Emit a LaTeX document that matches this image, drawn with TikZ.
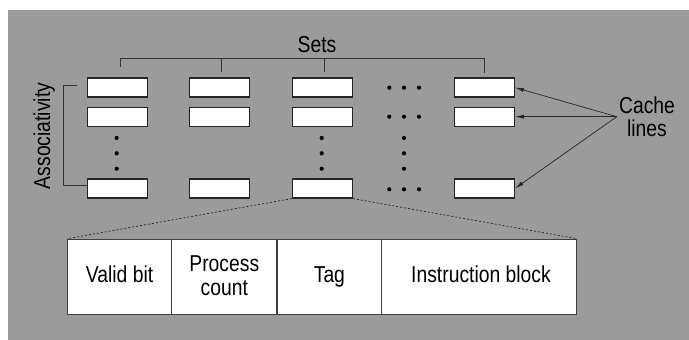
\documentclass[tikz,border=0pt]{standalone}
\usepackage{fontspec}
\setmainfont{Liberation Sans}[FakeStretch=0.84]
\usetikzlibrary{arrows.meta}
\definecolor{bggray}{RGB}{155,155,155}
\begin{document}
\begin{tikzpicture}[x=1pt,y=-1pt,
  cl/.style={draw=black!85,line width=1.2pt,fill=white,minimum width=60pt,minimum height=19pt,inner sep=0pt},
  cell/.style={draw=black!75,line width=1.1pt,fill=white,minimum height=75pt,inner sep=0pt},
  lbl/.style={font=\fontsize{23}{23.5}\selectfont,inner sep=0pt,align=center},
  brk/.style={draw=black!80,line width=0.7pt},
  ptr/.style={draw=black!85,line width=0.7pt,-{Latex[length=9pt,width=4pt]}},
  mag/.style={draw=black!85,line width=0.7pt,dash pattern=on 2pt off 2pt},
  dotm/.style={fill=black}]
\useasboundingbox (0,0) rectangle (689,340);
\fill[bggray] (8,10) rectangle (689,340);

% cache lines grid
\foreach \c/\x in {1/117.7,2/219.5,3/322.3,5/484.3}{
  \node[cl] (c\c r1) at (\x,87.5) {};
  \node[cl] (c\c r2) at (\x,116.7) {};
  \node[cl] (c\c r3) at (\x,188.5) {};
}
% vertical dots
\foreach \x in {116.7,321.7,404}{
  \foreach \y in {138,153.3,168.7}{ \fill[dotm] (\x,\y) circle (2.1pt); }
}
% horizontal dots
\foreach \y in {87.7,116.7,189.3}{
  \foreach \x in {389.3,404,419}{ \fill[dotm] (\x,\y) circle (2.1pt); }
}

% Sets bracket
\draw[brk] (120,58.3) -- (484.5,58.3);
\draw[brk] (120,58.3) -- (120,66.7);
\draw[brk] (221.7,58.3) -- (221.7,71.7);
\draw[brk] (324,58.3) -- (324,71.7);
\draw[brk] (484.5,58.3) -- (484.5,73);
\node[lbl,anchor=base] (sets) at (317,52.5) {Sets};

% Associativity bracket
\draw[brk] (77,85) -- (63.3,85) -- (63.3,185) -- (86.5,185);
\node[lbl,anchor=base,rotate=90] (assoc) at (50,136) {Associativity};

% Cache lines label and arrows
\node[lbl] (cachel) at (647,116.6) {Cache\\lines};
\coordinate (src) at (616.7,116.7);
\draw[ptr] (src) -- (c5r1.east);
\draw[ptr] (src) -- (c5r2.east);
\draw[ptr] (src) -- (c5r3.east);

% expanded cache line
\node[cell,minimum width=104.1pt] (valid) at (119.55,276.8) {};
\node[cell,minimum width=105.4pt] (proc) at (224.3,276.8) {};
\node[cell,minimum width=104.8pt] (tag) at (329.4,276.8) {};
\node[cell,minimum width=195pt] (instr) at (479.3,276.8) {};
\node[lbl,anchor=base] (tvalid) at (valid.center |- 0,282) {Valid bit};
\node[lbl] (tproc) at (224.3,275.5) {Process\\count};
\node[lbl,anchor=base] (ttag) at (tag.center |- 0,282) {Tag};
\node[lbl,anchor=base] (tinstr) at (481,282) {Instruction block};

% magnification lines
\draw[mag] (c3r3.south west) -- (valid.north west);
\draw[mag] (c3r3.south east) -- (instr.north east);
\end{tikzpicture}
\end{document}
